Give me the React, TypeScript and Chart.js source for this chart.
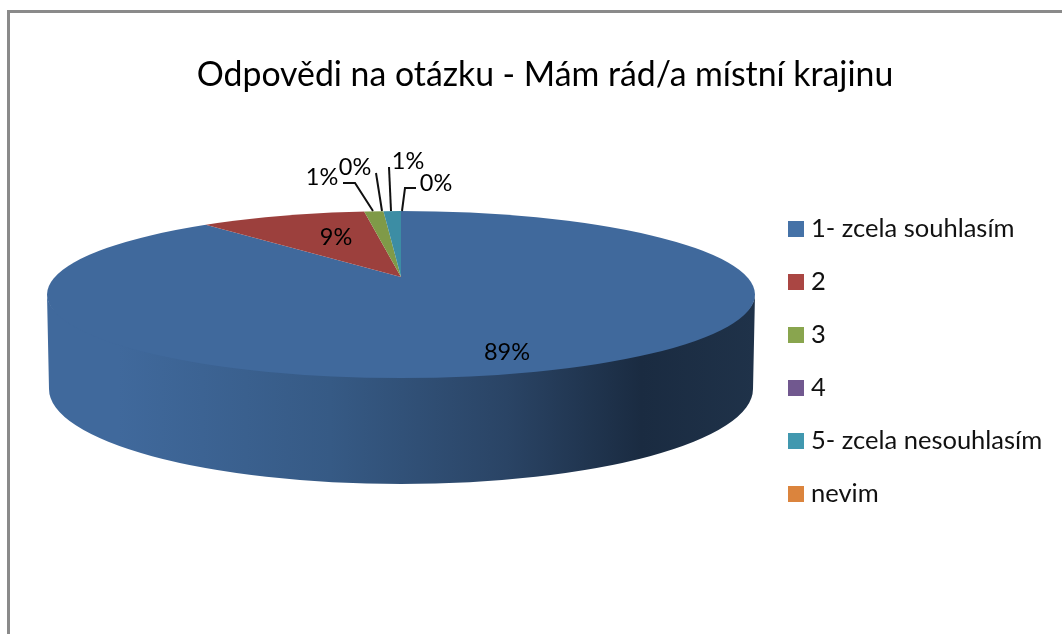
import React, { useEffect, useRef } from "react";
import { Chart, registerables } from "chart.js";

Chart.register(...registerables);

const titleText = "Odpovědi na otázku - Mám rád/a místní krajinu";
const categories = ["1- zcela souhlasím", "2", "3", "4", "5- zcela nesouhlasím", "nevim"];
const shares = [88.5, 9.4, 1.1, 0, 1.0, 0];
const sliceColors = ["#40699c", "#9c403d", "#7f9a48", "#664f82", "#3c8da4", "#c9772f"];
const legendColors = ["#4572a7", "#aa4643", "#89a54e", "#71588f", "#4198af", "#db843d"];

// label anchors, same order as the categories
const labelCentres = [[507, 352], [336, 237], [322, 177], [355, 167], [408, 161], [436, 183]];
const leaderLines = [
  [],
  [],
  [[343, 183], [355, 183], [373, 211]],
  [[376, 173], [382, 211]],
  [[389, 167], [391, 211]],
  [[416, 188], [405, 188], [402, 211]],
];

const FONT = "Lato, 'Open Sans', sans-serif";
const W = 1062;
const H = 634;

const top = { cx: 401, cy: 294.5, rx: 354, ry: 83.5 };
const apex = { x: 401, y: 277 };
const base = { cx: 401, cy: 389, rx: 352, ry: 95 };

function squareIcon(color: string) {
  const c = document.createElement("canvas");
  c.width = 16;
  c.height = 16;
  const g = c.getContext("2d")!;
  g.fillStyle = color;
  g.fillRect(0, 0, 16, 16);
  return c;
}

const pie3d = {
  id: "pie3d",
  afterLayout(chart: any) {
    const l = chart.legend;
    const w = l.right - l.left;
    const h = l.bottom - l.top;
    l.left = 766.25;
    l.right = l.left + w;
    l.top = 188.75;
    l.bottom = l.top + h;
    const t = chart.titleBlock;
    t.left = 28;
    t.right = W;
  },
  beforeDraw(chart: any) {
    const ctx = chart.ctx;
    ctx.save();
    ctx.fillStyle = "#ffffff";
    ctx.fillRect(0, 0, W, H);
    ctx.fillStyle = "#8a8a8a";
    ctx.fillRect(7, 10, 3, H - 10);
    ctx.fillRect(7, 10, W - 7, 3);
    ctx.restore();
  },
  beforeDatasetsDraw(chart: any) {
    const ctx = chart.ctx;
    ctx.save();
    const g = ctx.createLinearGradient(top.cx - top.rx, 0, top.cx + top.rx, 0);
    g.addColorStop(0, "#40699c");
    g.addColorStop(0.1, "#40699c");
    g.addColorStop(0.4, "#365a85");
    g.addColorStop(0.65, "#2a4465");
    g.addColorStop(0.84, "#1a2b41");
    g.addColorStop(1, "#1f3249");
    ctx.fillStyle = g;
    ctx.beginPath();
    // runs a little under the top face so that no light seam shows along the front edge
    ctx.ellipse(top.cx, top.cy, top.rx, top.ry - 5, 0, Math.PI, 0, true);
    ctx.lineTo(base.cx + base.rx, base.cy);
    ctx.ellipse(base.cx, base.cy, base.rx, base.ry, 0, 0, Math.PI, false);
    ctx.closePath();
    ctx.fill();
    ctx.restore();

    const arc = chart.getDatasetMeta(0).data[0];
    ctx.save();
    ctx.beginPath();
    ctx.ellipse(top.cx, top.cy, top.rx, top.ry, 0, 0, Math.PI * 2);
    ctx.clip();
    ctx.translate(apex.x, apex.y);
    ctx.scale(4.5, 4.5 / 4.24);
    ctx.translate(-arc.x, -arc.y);
  },
  afterDatasetsDraw(chart: any) {
    const ctx = chart.ctx;
    ctx.restore();
    ctx.save();
    ctx.strokeStyle = "#111111";
    ctx.lineWidth = 2;
    leaderLines.forEach((pts) => {
      if (!pts.length) return;
      ctx.beginPath();
      pts.forEach(([x, y], i) => (i ? ctx.lineTo(x, y) : ctx.moveTo(x, y)));
      ctx.stroke();
    });
    const total = shares.reduce((a, b) => a + b, 0);
    ctx.fillStyle = "#000000";
    ctx.font = `23.5px ${FONT}`;
    ctx.textAlign = "center";
    ctx.textBaseline = "middle";
    shares.forEach((v, i) => {
      ctx.fillText(`${Math.round((v / total) * 100)}%`, labelCentres[i][0], labelCentres[i][1]);
    });
    ctx.restore();
  },
};

export default function App() {
  const ref = useRef<HTMLCanvasElement>(null);
  useEffect(() => {
    const chart = new Chart(ref.current!, {
      type: "pie",
      data: {
        labels: categories,
        datasets: [
          {
            data: shares,
            backgroundColor: sliceColors,
            borderWidth: 0,
            radius: 100,
            clip: false,
          } as any,
        ],
      },
      options: {
        responsive: false,
        animation: false,
        layout: { padding: 0 },
        plugins: {
          tooltip: { enabled: false },
          title: {
            display: true,
            text: titleText,
            color: "#000000",
            font: { family: FONT, size: 33.8, weight: "normal" },
            padding: { top: 55, bottom: 10 },
          },
          legend: {
            position: "right",
            align: "start",
            labels: {
              color: "#111111",
              font: { family: FONT, size: 25.5 },
              padding: 27.5,
              boxWidth: 4.5,
              usePointStyle: true,
              generateLabels: () =>
                categories.map((text, i) => ({
                  text,
                  fontColor: "#111111",
                  pointStyle: squareIcon(legendColors[i]),
                  lineWidth: 0,
                  hidden: false,
                  index: i,
                })),
            },
          },
        },
      },
      plugins: [pie3d],
    } as any);
    return () => chart.destroy();
  }, []);
  return (
    <div style={{ position: "absolute", left: 0, top: 0, width: W, height: H, overflow: "hidden" }}>
      <canvas ref={ref} width={W} height={H} style={{ display: "block", filter: "blur(0.5px)" }} />
    </div>
  );
}
